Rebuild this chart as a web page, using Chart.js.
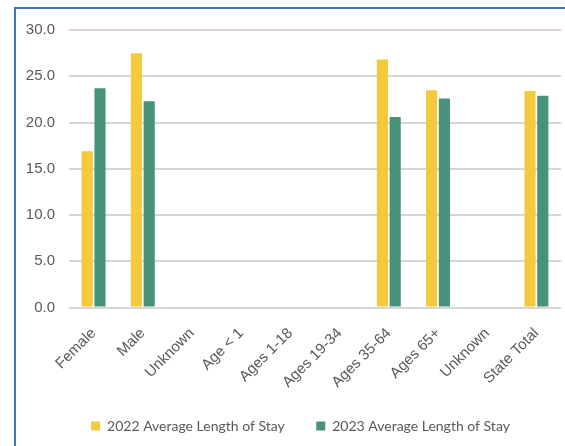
<!DOCTYPE html>
<html>
<head>
<meta charset="utf-8">
<script src="https://cdn.jsdelivr.net/npm/chart.js@4.4.1/dist/chart.umd.min.js"></script>
<style>
	html, body { margin: 0; padding: 0; background: #fff; }
	#wrap { position: relative; width: 565px; height: 446px; overflow: hidden; }
	#frame { position: absolute; left: 14px; top: 7px; width: 600px; height: 500px;
		border-left: 2px solid #4472C4; border-top: 2px solid #4472C4; }
	canvas { position: absolute; left: 0; top: 0; }
</style>
</head>
<body>
<div id="wrap">
	<div id="frame"></div>
	<canvas id="chart" width="565" height="446"></canvas>
</div>
<script>
const categories = ['Female', 'Male', 'Unknown', 'Age < 1', 'Ages 1-18', 'Ages 19-34', 'Ages 35-64', 'Ages 65+', 'Unknown', 'State Total'];
const stay2022 = [16.9, 27.5, null, null, null, null, 26.8, 23.5, null, 23.4];
const stay2023 = [23.7, 22.3, null, null, null, null, 20.6, 22.6, null, 22.9];
const yTicks = [0, 5, 10, 15, 20, 25, 30];

const axisFont = { family: "'Liberation Sans', Arial, sans-serif", size: 15 };

// nudge the legend a little right, as in the original
const legendShift = {
	id: 'legendShift',
	afterLayout(chart) {
		chart.legend.left += 7;
		chart.legend.right += 7;
	}
};

new Chart(document.getElementById('chart'), {
	type: 'bar',
	data: {
		labels: categories,
		datasets: [{
			label: '2022 Average Length of Stay',
			data: stay2022,
			backgroundColor: '#F4CA3C',
			categoryPercentage: 0.52,
			barPercentage: 0.87
		}, {
			label: '2023 Average Length of Stay',
			data: stay2023,
			backgroundColor: '#48917A',
			categoryPercentage: 0.52,
			barPercentage: 0.87
		}]
	},
	plugins: [legendShift],
	options: {
		responsive: false,
		animation: false,
		layout: { padding: { left: 26, right: 4, top: 30, bottom: 3 } },
		plugins: {
			legend: {
				position: 'bottom',
				labels: {
					boxWidth: 9,
					boxHeight: 9,
					padding: 10,
					color: '#595959',
					font: { family: 'Lato', size: 14 },
					generateLabels: chart => {
						const items = Chart.defaults.plugins.legend.labels.generateLabels(chart);
						items[0].text += '      ';
						return items;
					}
				}
			},
			tooltip: { enabled: false }
		},
		scales: {
			x: {
				grid: { display: false },
				border: { display: false },
				afterFit: s => { s.height = 101.5; },
				ticks: {
					color: '#595959',
					font: axisFont,
					maxRotation: 45,
					minRotation: 45,
					padding: 9
				}
			},
			y: {
				min: 0,
				max: 30,
				afterFit: s => { s.width = 43; },
				afterBuildTicks: s => { s.ticks = yTicks.map(v => ({ value: v })); },
				grid: { color: '#D6D6D6', lineWidth: 2, drawTicks: false },
				border: { display: false },
				ticks: {
					color: '#595959',
					font: axisFont,
					padding: 14,
					callback: v => v.toFixed(1)
				}
			}
		}
	}
});
</script>
</body>
</html>
